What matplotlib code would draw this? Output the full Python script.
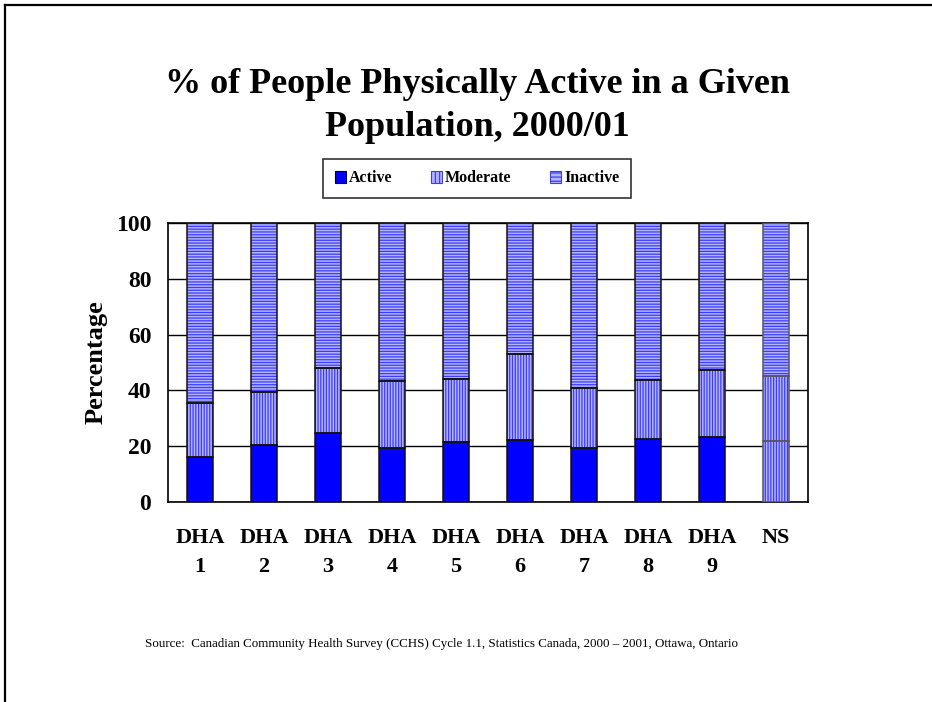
import matplotlib
matplotlib.use("Agg")
import matplotlib.pyplot as plt
from matplotlib.patches import Patch
from matplotlib.lines import Line2D
import numpy as np

categories = ["DHA\n1", "DHA\n2", "DHA\n3", "DHA\n4", "DHA\n5",
              "DHA\n6", "DHA\n7", "DHA\n8", "DHA\n9", "NS"]
active = [16.2, 20.6, 24.9, 19.2, 21.5, 22.2, 19.2, 22.5, 23.4, 21.9]
active_plus_moderate = [35.6, 39.5, 48.2, 43.5, 44.0, 53.1, 40.9, 43.6, 47.4, 45.3]
total = [100] * 10

plt.rcParams['font.family'] = ['Liberation Serif', 'DejaVu Serif']
plt.rcParams['hatch.linewidth'] = 0.9

active = np.array(active)
moderate = np.array(active_plus_moderate) - active
inactive = np.array(total) - active - moderate

BLUE = '#0000ff'
HATCH_FACE = '#b4b4ff'
HATCH_LINE = '#3c3cff'

fig = plt.figure(figsize=(9.32, 7.02), dpi=100)
ax = fig.add_axes([168 / 932, 1 - 502 / 702, 640 / 932, 279 / 702])

x = np.arange(len(categories))
w = 0.41

# NS has no separate active colour in the source, drawn hatched
active_colors = [BLUE] * 9 + [None]
for i in range(len(x)):
    if active_colors[i] is None:
        ax.bar(x[i], active[i], w, color=HATCH_FACE, edgecolor=HATCH_LINE,
               hatch='||||||', linewidth=0, zorder=3)
    else:
        ax.bar(x[i], active[i], w, color=BLUE, linewidth=0, zorder=3)
ax.bar(x, moderate, w, bottom=active, color=HATCH_FACE, edgecolor=HATCH_LINE,
       hatch='||||||', linewidth=0, zorder=3)
ax.bar(x, inactive, w, bottom=active + moderate, color=HATCH_FACE,
       edgecolor=HATCH_LINE, hatch='------', linewidth=0, zorder=3)

# outlines
outline = ['#111111'] * 9 + ['#555566']
for bottoms, heights in [(0, active), (active, moderate), (active + moderate, inactive)]:
    ax.bar(x, heights, w, bottom=bottoms, facecolor='none',
           edgecolor=outline, linewidth=1.1, zorder=4)

ax.set_xlim(-0.5, len(x) - 0.5)
ax.set_ylim(0, 100)
ax.set_yticks([0, 20, 40, 60, 80, 100])
ax.set_xticks(x)
ax.set_xticklabels(categories, fontsize=16, fontweight='bold', linespacing=1.55)
ax.tick_params(axis='y', length=0, pad=12, labelsize=17)
ax.tick_params(axis='x', length=0, pad=19)
for lab in ax.get_yticklabels():
    lab.set_fontweight('bold')
ax.yaxis.grid(True, color='black', linewidth=1.0, zorder=1)
ax.set_axisbelow(True)
for s in ax.spines.values():
    s.set_linewidth(1.2)
ax.set_ylabel('Percentage', fontsize=19, fontweight='bold')
ax.yaxis.set_label_coords(-0.094, 0.5)

fig.text(0.512, 1 - 106 / 702, '% of People Physically Active in a Given\nPopulation, 2000/01',
         ha='center', va='center', fontsize=26, fontweight='bold', linespacing=1.38)

handles = [Patch(facecolor=BLUE, edgecolor='black', linewidth=0.8),
           Patch(facecolor=HATCH_FACE, edgecolor=HATCH_LINE, hatch='||||', linewidth=0.8),
           Patch(facecolor=HATCH_FACE, edgecolor=HATCH_LINE, hatch='----', linewidth=0.8)]
leg = fig.legend(handles, ['Active', 'Moderate', 'Inactive'], loc='center',
                 bbox_to_anchor=(477 / 932, 1 - 178.5 / 702), ncol=3, frameon=True,
                 fancybox=False, edgecolor='black', handlelength=0.7, handleheight=0.7,
                 handletextpad=0.2, columnspacing=2.4, borderpad=0.7,
                 prop={'size': 11.5, 'weight': 'bold'})
leg.get_frame().set_linewidth(1.2)

fig.text(145 / 932, 1 - 644 / 702,
         'Source:  Canadian Community Health Survey (CCHS) Cycle 1.1, Statistics Canada, 2000 \u2013 2001, Ottawa, Ontario',
         ha='left', va='center', fontsize=9.35)

# slide border
fig.add_artist(Line2D([5 / 932, 1], [1 - 5 / 702, 1 - 5 / 702], color='black', linewidth=1.6))
fig.add_artist(Line2D([5 / 932, 5 / 932], [0, 1 - 5 / 702], color='black', linewidth=1.6))

fig.savefig('out.png', dpi=100)
